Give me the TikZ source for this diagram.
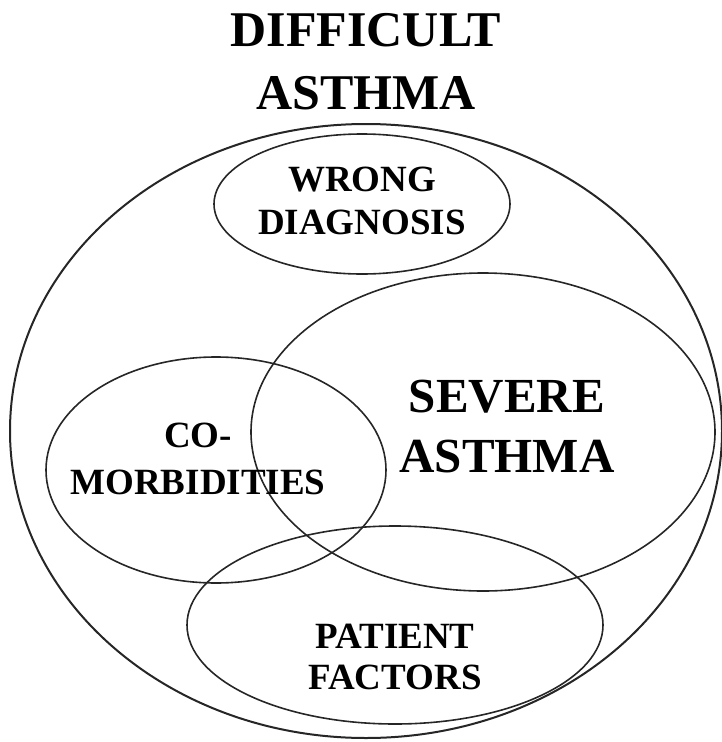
\documentclass[tikz,border=0pt]{standalone}
\usepackage{fontspec}
\setmainfont{Liberation Serif}
\usetikzlibrary{shapes.geometric}
\begin{document}
\begin{tikzpicture}[x=1pt,y=-1pt,
  setbox/.style={ellipse,draw=black!85,line width=1.6pt,inner sep=0pt,
    minimum width=#1},
  label/.style={align=center,inner sep=0pt,font=\bfseries}]
\useasboundingbox (0,0) rectangle (722,742);
% outer set and its subsets
\node[setbox=712pt,minimum height=614pt,line width=2pt] (difficult) at (366,431) {};
\node[setbox=296pt,minimum height=140pt] (wrong) at (362,204) {};
\node[setbox=464pt,minimum height=318pt] (severe) at (483,432) {};
\node[setbox=340pt,minimum height=226pt] (comorb) at (216,470) {};
\node[setbox=416pt,minimum height=198pt] (patient) at (395,625) {};
% labels
\node[label,font=\bfseries\fontsize{50}{63}\selectfont] (tDifficult) at (366,61.5) {DIFFICULT\\ASTHMA};
\node[label,font=\bfseries\fontsize{37}{43}\selectfont] (tWrong) at (362,201) {WRONG\\DIAGNOSIS};
\node[label,font=\bfseries\fontsize{49}{60}\selectfont] (tSevere) at (507,427) {SEVERE\\ASTHMA};
\node[label,font=\bfseries\fontsize{37}{47}\selectfont] (tComorb) at (198,459) {CO-\\MORBIDITIES};
\node[label,font=\bfseries\fontsize{37}{41}\selectfont] (tPatient) at (395,657) {PATIENT\\FACTORS};
\end{tikzpicture}
\end{document}
